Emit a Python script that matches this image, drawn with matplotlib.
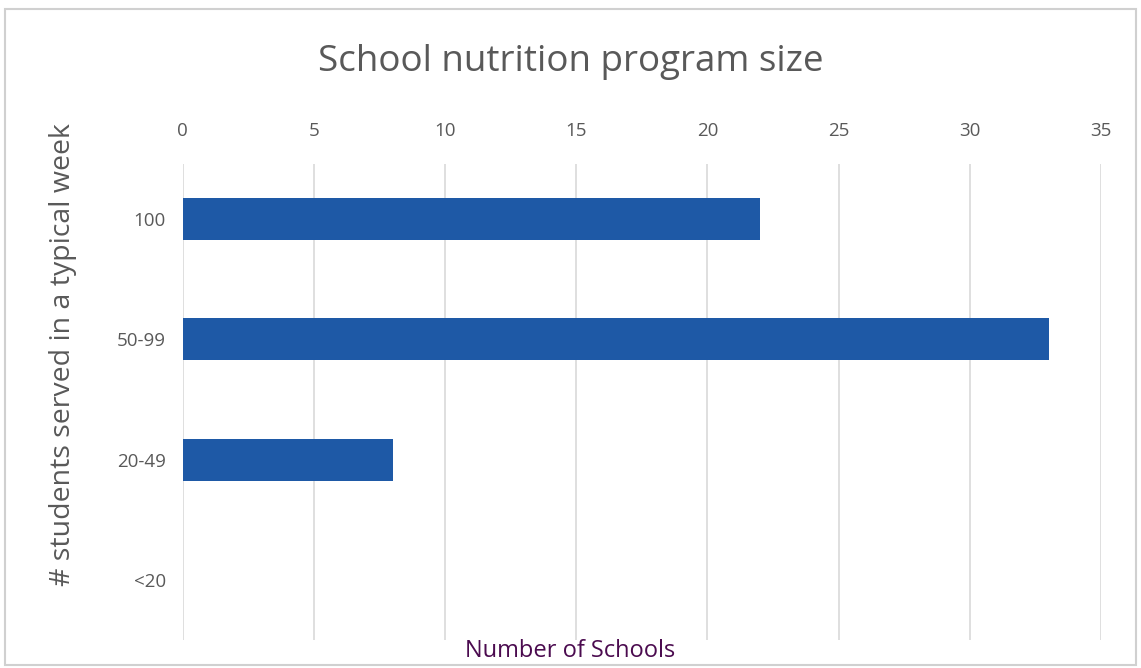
import matplotlib.pyplot as plt
from matplotlib.patches import Rectangle

# data (top to bottom as shown)
categories = ['100', '50-99', '20-49', '<20']
schools = [22, 33, 8, 0]
xticks = [0, 5, 10, 15, 20, 25, 30, 35]

plt.rcParams['font.family'] = ['Open Sans', 'DejaVu Sans']

fig = plt.figure(figsize=(11.41, 6.68), dpi=100)
ax = fig.add_axes([0.160, 0.042, 0.805, 0.7126])

ypos = list(range(len(categories)))
ax.barh(ypos, schools, height=0.35, color='#1E59A6', zorder=3)
ax.set_ylim(3.5, -0.46)
ax.set_xlim(0, 35)

ax.set_yticks(ypos)
ax.set_yticklabels(categories)
ax.set_xticks(xticks)
ax.xaxis.tick_top()
ax.tick_params(axis='both', length=0, colors='#595959', labelsize=13.5)
ax.tick_params(axis='x', pad=17)
ax.tick_params(axis='y', pad=12)
ax.grid(axis='x', color='#D9D9D9', linewidth=1.2, zorder=0)
for s in ax.spines.values():
    s.set_visible(False)

# axis titles placed by hand, as in the original
fig.text(0.055, 0.469, '# students served in a typical week', rotation=90,
         ha='center', va='center', fontsize=20.5, color='#595959')
fig.text(0.5, 0.026, 'Number of Schools', ha='center', va='center', fontsize=17, color='#4B0B4F')
fig.text(0.5, 0.907, 'School nutrition program size', ha='center', va='center', fontsize=26.5, color='#595959')

fig.patches.append(Rectangle((0.004, 0.005), 0.992, 0.982, transform=fig.transFigure,
                             fill=False, edgecolor='#D0D0D0', linewidth=1.5))

fig.savefig('out.png', dpi=100)
